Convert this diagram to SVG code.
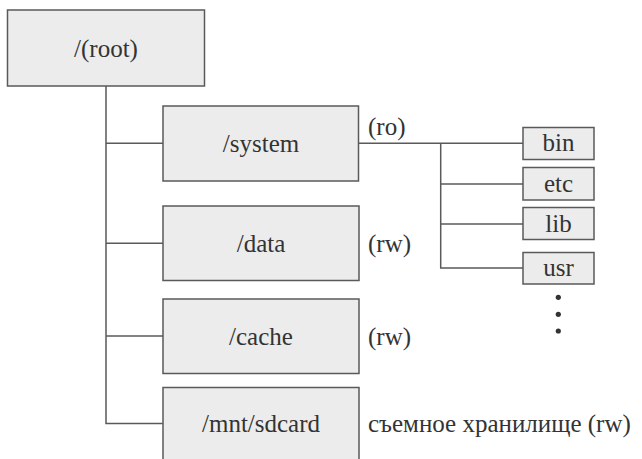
<svg xmlns="http://www.w3.org/2000/svg" width="642" height="459" viewBox="0 0 642 459" font-family="Liberation Serif, DejaVu Serif, serif">
<style>
.box{fill:#ececec;stroke:#5a5a5a;stroke-width:1.5}
.ln{fill:none;stroke:#5a5a5a;stroke-width:1.5}
text{font-size:25px;fill:#333}
.c{text-anchor:middle}
</style>
<rect width="642" height="459" fill="#ffffff"/>
<g id="connectors">
<path class="ln" d="M106,86 V423.5 H163"/>
<path class="ln" d="M106,143.3 H163"/>
<path class="ln" d="M106,243.3 H163"/>
<path class="ln" d="M106,336 H163"/>
<path class="ln" d="M358.5,143.3 H523"/>
<path class="ln" d="M440.7,143.3 V268 H523"/>
<path class="ln" d="M440.7,184 H523"/>
<path class="ln" d="M440.7,224 H523"/>
</g>
<g id="root"><rect class="box" x="7.5" y="10" width="197" height="76"/><text class="c" x="106" y="57">/(root)</text></g>
<g id="system"><rect class="box" x="163" y="106" width="195.5" height="75"/><text class="c" x="261" y="152">/system</text><text x="368" y="135">(ro)</text></g>
<g id="data"><rect class="box" x="163" y="206" width="196" height="74.5"/><text class="c" x="261" y="252">/data</text><text x="368" y="252">(rw)</text></g>
<g id="cache"><rect class="box" x="163" y="299" width="196" height="74.5"/><text class="c" x="261" y="345">/cache</text><text x="368" y="345">(rw)</text></g>
<g id="mnt"><rect class="box" x="163" y="387.5" width="196" height="75"/><text class="c" x="261" y="432">/mnt/sdcard</text><text x="368" y="432">съемное хранилище (rw)</text></g>
<g id="bin"><rect class="box" x="523" y="127.5" width="71" height="32"/><text class="c" x="558.5" y="151">bin</text></g>
<g id="etc"><rect class="box" x="523" y="167.5" width="71" height="32.5"/><text class="c" x="558.5" y="192">etc</text></g>
<g id="lib"><rect class="box" x="523" y="207.5" width="71" height="32"/><text class="c" x="558.5" y="232">lib</text></g>
<g id="usr"><rect class="box" x="523" y="252.5" width="71" height="31.5"/><text class="c" x="558.5" y="276">usr</text></g>
<g id="dots" fill="#333"><circle cx="558.3" cy="297.3" r="2.6"/><circle cx="558.3" cy="314.3" r="2.6"/><circle cx="558.3" cy="331" r="2.6"/></g>
</svg>
